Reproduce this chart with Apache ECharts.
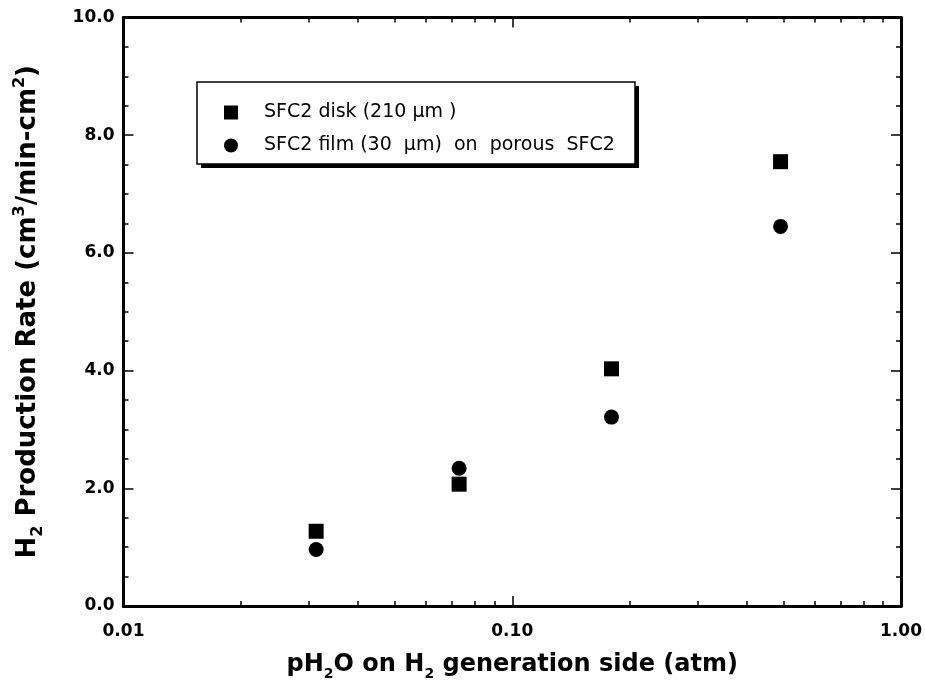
<!DOCTYPE html>
<html>
<head>
<meta charset="utf-8">
<script src="https://cdn.jsdelivr.net/npm/echarts@6/dist/echarts.min.js"></script>
<style>
  html, body { margin: 0; padding: 0; background: #fff; }
  #chart { width: 925px; height: 689px; }
</style>
</head>
<body>
<div id="chart"></div>
<script>
// pH2O (atm) at each measurement
var pH2O = [0.0313, 0.073, 0.18, 0.49];
// H2 production rate (cm3/min-cm2)
var diskRate = [1.27, 2.07, 4.03, 7.55];
var filmRate = [0.96, 2.34, 3.21, 6.45];
var seriesNames = ['SFC2 disk (210 μm )', 'SFC2 film (30  μm)  on  porous  SFC2'];
// tick values
var xMajor = [0.01, 0.1, 1];
var xMinor = [0.02, 0.03, 0.04, 0.05, 0.06, 0.07, 0.08, 0.09,
              0.2, 0.3, 0.4, 0.5, 0.6, 0.7, 0.8, 0.9];

var FONT = 'DejaVu Sans, Verdana, sans-serif';

function pairs(xs, ys) {
    return xs.map(function (x, i) { return [x, ys[i]]; });
}

// one x axis on a side, either major (with labels) or minor ticks
function xAxisOf(pos, ticks, len, withLabel) {
    return {
        type: 'log',
        logBase: 10,
        min: 0.01,
        max: 1,
        position: pos,
        axisLine: { show: true, lineStyle: { color: '#000', width: 3 } },
        axisTick: { show: true, inside: true, length: len, customValues: ticks,
                    lineStyle: { color: '#000', width: 1.5 } },
        axisLabel: {
            show: withLabel,
            customValues: xMajor,
            margin: 17,
            fontFamily: FONT, fontWeight: 'bold', fontSize: 17, color: '#000',
            formatter: function (v) { return Number(v).toFixed(2); }
        },
        splitLine: { show: false },
        minorTick: { show: false }
    };
}

function yAxisOf(pos, withLabel) {
    return {
        type: 'value',
        min: 0,
        max: 10,
        interval: 2,
        position: pos,
        axisLine: { show: true, lineStyle: { color: '#000', width: 3 } },
        axisTick: { show: true, inside: true, length: 10, lineStyle: { color: '#000', width: 1.5 } },
        minorTick: { show: true, splitNumber: 4, length: 5, lineStyle: { color: '#000', width: 1.5 } },
        axisLabel: {
            show: withLabel,
            margin: 9,
            fontFamily: FONT, fontWeight: 'bold', fontSize: 17, color: '#000',
            formatter: function (v) { return v.toFixed(1); }
        },
        splitLine: { show: false }
    };
}

function titleRich(size) {
    var sm = Math.round(size * 0.6);
    return {
        b: { fontFamily: FONT, fontWeight: 'bold', fontSize: size, color: '#000', lineHeight: size + 8 },
        sub: { fontFamily: FONT, fontWeight: 'bold', fontSize: sm, color: '#000', lineHeight: sm, verticalAlign: 'bottom' },
        sup: { fontFamily: FONT, fontWeight: 'bold', fontSize: sm, color: '#000', lineHeight: sm, verticalAlign: 'top' }
    };
}

var xBottom = xAxisOf('bottom', xMajor, 10, true);
xBottom.name = '{b|pH}{sub|2}{b|O on H}{sub|2}{b| generation side (atm)}';
xBottom.nameLocation = 'middle';
xBottom.nameGap = 43;
xBottom.nameTextStyle = { rich: titleRich(24) };

var yLeft = yAxisOf('left', true);
yLeft.name = '{b|H}{sub|2}{b| Production Rate (cm}{sup|3}{b|/min-cm}{sup|2}{b|)}';
yLeft.nameLocation = 'middle';
yLeft.nameGap = 78;
yLeft.nameTextStyle = { rich: titleRich(26) };

var option = {
    backgroundColor: '#fff',
    animation: false,
    grid: { left: 123.5, right: 24, top: 17.5, bottom: 83 },
    graphic: [
        // legend frame with its drop shadow
        { type: 'rect', z: 1, shape: { x: 201, y: 86, width: 438, height: 82 },
          style: { fill: '#000' } },
        { type: 'rect', z: 2, shape: { x: 197, y: 82, width: 438, height: 82 },
          style: { fill: '#fff', stroke: '#000', lineWidth: 1.5 } }
    ],
    legend: {
        orient: 'vertical',
        left: 224,
        top: 103,
        padding: 0,
        itemGap: 14,
        itemWidth: 14,
        itemHeight: 14,
        z: 10,
        textStyle: { fontFamily: FONT, fontSize: 19, color: '#000', padding: [0, 0, 0, 21] },
        data: [
            { name: seriesNames[0], icon: 'rect' },
            { name: seriesNames[1], icon: 'circle' }
        ]
    },
    xAxis: [
        xBottom,
        xAxisOf('bottom', xMinor, 5, false),
        xAxisOf('top', xMajor, 10, false),
        xAxisOf('top', xMinor, 5, false)
    ],
    yAxis: [
        yLeft,
        yAxisOf('right', false)
    ],
    series: [
        {
            name: seriesNames[0],
            type: 'scatter',
            symbol: 'rect',
            symbolSize: 15,
            itemStyle: { color: '#000', opacity: 1 },
            data: pairs(pH2O, diskRate)
        },
        {
            name: seriesNames[1],
            type: 'scatter',
            symbol: 'circle',
            symbolSize: 15,
            itemStyle: { color: '#000', opacity: 1 },
            data: pairs(pH2O, filmRate)
        }
    ]
};

var chart = echarts.init(document.getElementById('chart'));
chart.setOption(option);
</script>
</body>
</html>
